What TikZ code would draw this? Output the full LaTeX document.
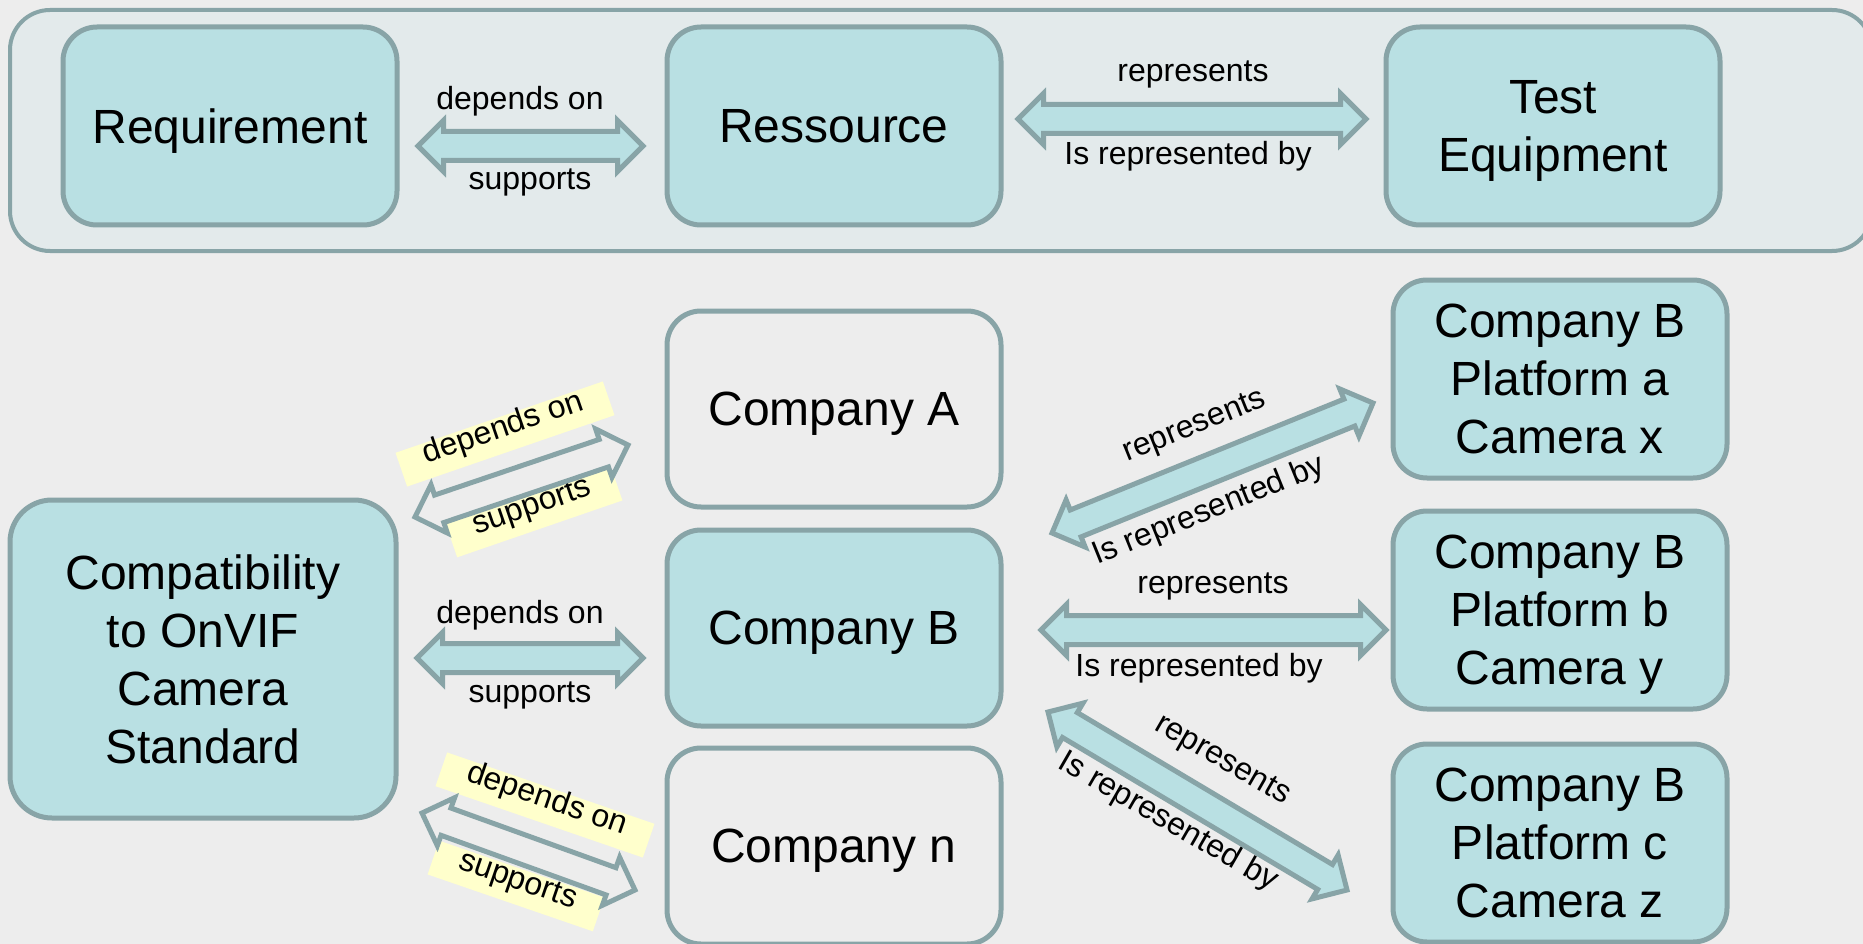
\documentclass[tikz,border=0pt]{standalone}
\usepackage{fontspec}
\setmainfont{Liberation Sans}
\usetikzlibrary{positioning,shapes.arrows,calc}

\definecolor{bgc}{HTML}{EDEDED}
\definecolor{panelc}{HTML}{E3EAEB}
\definecolor{boxc}{HTML}{B9E0E3}
\definecolor{linec}{HTML}{88A4A7}
\definecolor{notec}{HTML}{FFFFCC}

\newcommand{\dblarrow}[3][]{%
  \path let \p1=($(#3)-(#2)$), \n1={atan2(\y1,\x1)}, \n2={veclen(\x1,\y1)} in
    node[bigarrow,#1,rotate=\n1,minimum height=\n2] at ($(#2)!0.5!(#3)$) {};}

\begin{document}
\begin{tikzpicture}[x=1pt,y=-1pt,
  box/.style={draw=linec,line width=5pt,rounded corners=34pt,fill=boxc,minimum width=334pt,minimum height=198pt,align=center,inner sep=0pt,text depth=0pt,font=\fontsize{48}{58}\selectfont},
  plain/.style={box,fill=bgc},
  bigarrow/.style={shape=double arrow,draw=linec,line width=5pt,fill=boxc,inner sep=12pt,minimum width=48pt,double arrow head extend=11pt,double arrow tip angle=90},
  hollow/.style={fill=bgc},
  lbl/.style={font=\fontsize{32}{36}\selectfont,inner sep=0pt},
  note/.style={lbl,fill=notec,inner xsep=26pt,inner ysep=13pt,text height=0.75em,text depth=0.22em}]
\useasboundingbox[fill=bgc] (0,0) rectangle (1863,944);

% top panel
\draw[draw=linec,line width=4pt,fill=panelc,rounded corners=40pt] (10,10) rectangle (1872,251);
\node[box] (req) at (230,126) {Requirement};
\node[box] (res) at (834,126) {Ressource};
\node[box] (test) at (1553,126) {Test\\Equipment};

% companies
\node[box,minimum width=386pt,minimum height=318pt,rounded corners=42pt] (compat) at (203,659) {Compatibility\\to OnVIF\\Camera\\Standard};
\node[plain,minimum height=196pt] (compA) at (834,409) {Company A};
\node[box,minimum height=196pt] (compB) at (834,628) {Company B};
\node[plain,minimum height=196pt] (compN) at (834,846) {Company n};
\node[box] (platA) at (1560,379) {Company B\\Platform a\\Camera x};
\node[box] (platB) at (1560,610) {Company B\\Platform b\\Camera y};
\node[box] (platC) at (1560,843) {Company B\\Platform c\\Camera z};

% labels
\node[lbl] (dep1) at (520,101) {depends on};
\node[lbl] (sup1) at (530,182) {supports};
\node[lbl] (rep1) at (1193,74) {represents};
\node[lbl] (isr1) at (1188,156) {Is represented by};
\node[lbl] (dep2) at (520,615) {depends on};
\node[lbl] (sup2) at (530,695) {supports};
\node[note,rotate=19] (depA) at (505,434) {depends on};
\node[note,rotate=19] (supA) at (534,512) {supports};
\node[note,rotate=-19] (depN) at (545,805) {depends on};
\node[note,rotate=-19] (supN) at (516,886) {supports};
\node[lbl,rotate=22] (repA) at (1195,427) {represents};
\node[lbl,rotate=22] (isrA) at (1209,511) {Is represented by};
\node[lbl] (repB) at (1213,586) {represents};
\node[lbl] (isrB) at (1199,668) {Is represented by};
\node[lbl,rotate=-30] (repC) at (1222,761) {represents};
\node[lbl,rotate=-30] (isrC) at (1168,822) {Is represented by};

% arrows
\coordinate (r1) at (418,146); \coordinate (r2) at (643,146);
\coordinate (t1) at (1018,119); \coordinate (t2) at (1366,119);
\coordinate (a1) at (415,517); \coordinate (a2) at (628,445);
\coordinate (b1) at (417,658); \coordinate (b2) at (643,658);
\coordinate (n1) at (422,813); \coordinate (n2) at (635,890);
\coordinate (pa1) at (1052,533); \coordinate (pa2) at (1373,403);
\coordinate (pb1) at (1041,630); \coordinate (pb2) at (1386,630);
\coordinate (pc1) at (1048,712); \coordinate (pc2) at (1347,890);
\dblarrow{r1}{r2}
\dblarrow{t1}{t2}
\dblarrow[hollow]{a1}{a2}
\dblarrow{b1}{b2}
\dblarrow[hollow]{n1}{n2}
\dblarrow{pa1}{pa2}
\dblarrow{pb1}{pb2}
\dblarrow{pc1}{pc2}

\end{tikzpicture}
\end{document}
